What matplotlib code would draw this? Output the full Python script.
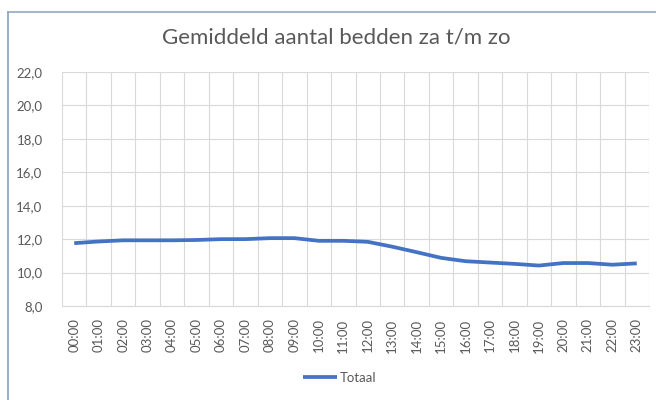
import matplotlib.pyplot as plt
import numpy as np
from matplotlib.lines import Line2D
from matplotlib.ticker import FuncFormatter

uren = ['%02d:00' % h for h in range(24)]
totaal = [11.76, 11.86, 11.93, 11.93, 11.93, 11.95, 12.0, 12.0, 12.06, 12.06,
          11.9, 11.9, 11.84, 11.55, 11.22, 10.88, 10.68, 10.6, 10.52, 10.42,
          10.57, 10.57, 10.47, 10.55]
y_ticks = [8, 10, 12, 14, 16, 18, 20, 22]

plt.rcParams['font.family'] = ['Lato', 'DejaVu Sans']
grijs = '#595959'

fig = plt.figure(figsize=(6.56, 4.0), dpi=100)
ax = fig.add_axes([62/656, 1-306/400, (649-62)/656, (306-72)/400])

x = np.arange(len(uren))
ax.plot(x, totaal, color='#4472C4', linewidth=2.7, solid_capstyle='butt',
        solid_joinstyle='round', label='Totaal', zorder=3)

ax.set_xlim(-0.5, len(uren) - 0.5)
ax.set_ylim(8, 22)
ax.set_yticks(y_ticks)
ax.yaxis.set_major_formatter(FuncFormatter(lambda v, p: ('%.1f' % v).replace('.', ',')))
ax.set_xticks(x)
ax.set_xticklabels(uren, rotation=90)

# gridlines between categories, like Excel
for b in np.arange(-0.5, len(uren), 1.0):
    ax.axvline(b, color='#D9D9D9', linewidth=0.8, zorder=1)
ax.grid(axis='y', color='#D9D9D9', linewidth=0.8, zorder=1)
ax.set_axisbelow(True)

for s in ax.spines.values():
    s.set_visible(False)
ax.spines['bottom'].set_visible(True)
ax.spines['bottom'].set_color('#D9D9D9')
ax.tick_params(length=0, colors=grijs, labelsize=9.5)
ax.tick_params(axis='y', pad=14)
ax.tick_params(axis='x', pad=9)

fig.text(336/656, 1-37/400, 'Gemiddeld aantal bedden za t/m zo', ha='center', va='center',
         fontsize=16, color=grijs)

leg = fig.legend(loc='center', bbox_to_anchor=(0.518, 1-378/400), frameon=False,
                 fontsize=9.5, handlelength=2.6, handletextpad=0.2)
for t in leg.get_texts():
    t.set_color(grijs)

# chart border (cropped on right and bottom)
fig.add_artist(Line2D([8/656, 1], [1-12/400, 1-12/400], color='#9DB0C3', linewidth=1.3))
fig.add_artist(Line2D([8/656, 8/656], [0, 1-12/400], color='#8FA8C8', linewidth=1.3))

plt.savefig('out.png', dpi=100)
